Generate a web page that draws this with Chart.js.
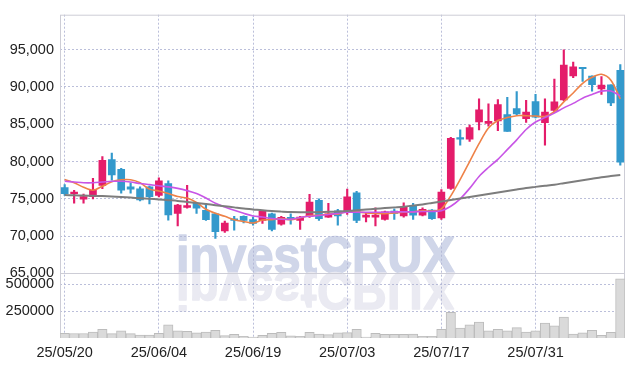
<!DOCTYPE html>
<html>
<head>
<meta charset="utf-8">
<script src="https://cdn.jsdelivr.net/npm/chart.js@4.4.0/dist/chart.umd.min.js"></script>
<style>
  html, body { margin: 0; padding: 0; background: #fff; }
  #wrap { width: 634px; height: 366px; }
</style>
</head>
<body>
<div id="wrap"><canvas id="chart" width="634" height="366"></canvas></div>
<script>
// ---- data (daily candles 25/05/20 - 25/08/13) ----
const dates = [
  '25/05/20','25/05/21','25/05/22','25/05/23','25/05/26','25/05/27','25/05/28','25/05/29','25/05/30','25/06/02',
  '25/06/04','25/06/05','25/06/09','25/06/10','25/06/11','25/06/12','25/06/13','25/06/16','25/06/17','25/06/18',
  '25/06/19','25/06/20','25/06/23','25/06/24','25/06/25','25/06/26','25/06/27','25/06/30','25/07/01','25/07/02',
  '25/07/03','25/07/04','25/07/07','25/07/08','25/07/09','25/07/10','25/07/11','25/07/14','25/07/15','25/07/16',
  '25/07/17','25/07/18','25/07/21','25/07/22','25/07/23','25/07/24','25/07/25','25/07/28','25/07/29','25/07/30',
  '25/07/31','25/08/01','25/08/04','25/08/05','25/08/06','25/08/07','25/08/08','25/08/11','25/08/12','25/08/13'
];
const opens = [
  76500,75700,74950,75300,76800,80250,78950,76600,76350,76600,
  75450,77050,73050,73850,74400,73450,73000,70700,72200,72650,
  72200,72100,73000,71600,72500,72100,72650,74800,72550,73400,
  73250,75800,72550,72550,72250,73350,72700,74050,72800,73500,
  72450,76400,83100,83000,85300,85100,85450,86300,87100,85750,
  88050,85200,86850,88250,91500,92600,91450,89750,90300,92250
];
const highs = [
  76900,76150,75650,77750,80650,81150,79100,77150,76600,76700,
  77800,77400,74250,76800,74500,74350,73100,72000,72650,72700,
  72550,73450,73100,72650,73000,72650,75600,75000,74400,73600,
  76300,76000,73150,73800,73350,73650,74450,74400,73800,73550,
  76250,83250,84250,84900,88400,87750,88300,88600,89400,88200,
  89000,88400,91050,95000,93350,92650,91500,91400,90300,93000
];
const lows = [
  75450,74400,74400,75000,76350,77500,75750,75750,74700,74300,
  75250,72150,71350,73750,73050,72100,69700,70500,70800,71750,
  71450,71700,70700,71450,71600,70900,72500,72100,72500,71450,
  72900,71800,71900,71350,72150,72250,72550,72250,72700,72250,
  72250,76250,82200,82700,84250,84750,84150,84050,86300,85250,
  85850,82200,86600,88150,91250,90750,89450,89000,87500,79500
];
const closes = [
  75700,75900,75300,76150,80150,78200,76150,76300,74850,75300,
  77400,72850,74150,74100,73750,72200,70600,71750,72100,72100,
  71700,73350,70900,72500,72200,72550,74550,72350,73000,72700,
  75250,72100,72800,72800,73250,73050,73900,72800,73600,72350,
  75900,83100,83000,84550,86950,85400,87650,84050,86400,86650,
  85950,86650,88000,92950,92700,92450,90300,90250,87850,79900
];
const ma5 = [
  77600,77150,76550,76150,76680,77300,77550,77550,77150,76300,
  76050,75700,75300,75100,74500,73600,73050,72650,72200,71950,
  71750,72150,72200,72350,72200,72450,72750,72800,72950,72950,
  73300,73250,73100,73050,73000,73100,73200,73250,73400,73350,
  73650,75400,77600,80000,82400,84500,85500,85900,86150,86150,
  86100,86050,86700,88000,89200,90500,91300,91700,90900,88400
];
const ma10 = [
  77350,77250,77150,77150,77250,77350,77350,77250,77050,76900,
  76750,76600,76400,76100,75700,75100,74400,73900,73450,73050,
  72700,72550,72350,72250,72250,72500,72650,72750,72900,73050,
  73200,73200,73200,73200,73200,73250,73250,73250,73300,73300,
  73400,74000,75000,76400,78000,79200,80300,81600,82900,84300,
  85300,85900,86500,87200,87800,88500,89000,89450,89450,88800
];
const maLong = [
  75500,75470,75440,75400,75360,75300,75230,75160,75080,75000,
  74920,74820,74720,74580,74450,74300,74150,74000,73850,73700,
  73580,73450,73350,73280,73220,73200,73200,73220,73250,73300,
  73380,73450,73550,73650,73750,73850,73950,74100,74250,74450,
  74650,74850,75050,75250,75450,75650,75850,76050,76250,76450,
  76600,76750,76900,77100,77300,77500,77700,77900,78050,78200
];
const volumes = [
  44000,42000,42000,56000,81000,41000,66000,41000,28000,28000,
  44000,122000,66000,62000,47000,56000,72000,22000,34000,16000,
  9000,25000,44000,53000,19000,16000,53000,37000,31000,47000,
  50000,81000,8000,44000,34000,34000,34000,37000,16000,16000,
  81000,238000,91000,122000,147000,66000,81000,66000,97000,56000,
  66000,138000,113000,194000,37000,47000,72000,25000,53000,550000
];
const priceTicks = [65000, 70000, 75000, 80000, 85000, 90000, 95000];
const volumeTicks = [250000, 500000];

const UP = '#e41c6a', DOWN = '#3399cc';
const GRID = 'rgba(175,180,212,0.85)';
const LABEL_FONT = "'Liberation Sans', sans-serif";

const candleColors = closes.map((c, i) => c >= opens[i] ? UP : DOWN);
const wicks = lows.map((l, i) => [l, highs[i]]);
const bodies = opens.map((o, i) => [o, closes[i]]);

// watermark behind the grid, with its mirror image under the baseline
const watermark = {
  id: 'watermark',
  beforeDraw(chart) {
    const ctx = chart.ctx;
    ctx.save();
    ctx.font = "bold 52px 'Liberation Sans', Arial, sans-serif";
    const w = ctx.measureText('investCRUX').width;
    ctx.translate(315.5, 272.5);
    ctx.scale(279 / w, 1);
    ctx.textAlign = 'center';
    ctx.textBaseline = 'alphabetic';
    ctx.lineJoin = 'round';
    ctx.lineWidth = 1.4;
    ctx.fillStyle = ctx.strokeStyle = 'rgb(208,214,233)';
    ctx.fillText('investCRUX', 0, 0);
    ctx.strokeText('investCRUX', 0, 0);
    ctx.scale(1, -1);
    ctx.fillStyle = ctx.strokeStyle = 'rgb(234,234,242)';
    ctx.fillText('investCRUX', 0, 0);
    ctx.strokeText('investCRUX', 0, 0);
    ctx.restore();
  }
};

// solid frame round the plot and between the two panels
const frame = {
  id: 'frame',
  beforeDatasetsDraw(chart) {
    const { ctx, chartArea: a } = chart;
    const sep = chart.scales.y.bottom;
    ctx.save();
    ctx.strokeStyle = 'rgb(205,205,214)';
    ctx.lineWidth = 1;
    ctx.strokeRect(a.left + 0.5, a.top + 0.5, a.right - a.left - 1, a.bottom - a.top - 1);
    ctx.beginPath();
    ctx.moveTo(a.left, Math.round(sep) + 0.5);
    ctx.lineTo(a.right, Math.round(sep) + 0.5);
    ctx.stroke();
    ctx.restore();
  }
};

function lineSet(data, color, width) {
  return {
    type: 'line', data, yAxisID: 'y', borderColor: color, borderWidth: width,
    pointRadius: 0, tension: 0.3, fill: false, order: 0
  };
}

const axisFont = { family: LABEL_FONT, size: 14.5 };

new Chart(document.getElementById('chart'), {
  type: 'bar',
  data: {
    labels: dates,
    datasets: [
      lineSet(maLong, 'rgb(125,125,125)', 2),
      lineSet(ma10, 'rgb(200,85,230)', 1.6),
      lineSet(ma5, 'rgb(238,130,72)', 1.6),
      { data: wicks, yAxisID: 'y', backgroundColor: candleColors, barThickness: 1.5, grouped: false, order: 2 },
      { data: bodies, yAxisID: 'y', backgroundColor: candleColors, barThickness: 7, minBarLength: 1.5, grouped: false, order: 1 },
      { data: volumes, yAxisID: 'vol', backgroundColor: 'rgb(218,218,218)', borderColor: 'rgb(188,188,188)',
        borderWidth: 1, barPercentage: 1, categoryPercentage: 1, grouped: false, order: 3 }
    ]
  },
  options: {
    responsive: false,
    animation: false,
    layout: { padding: { top: 9, right: 9, left: 0, bottom: 0 } },
    plugins: { legend: { display: false }, tooltip: { enabled: false } },
    scales: {
      x: {
        offset: true,
        grid: {
          offset: false, drawTicks: false,
          color: c => (c.index % 10 === 0 ? GRID : 'transparent')
        },
        border: { display: false, dash: [2, 2] },
        ticks: {
          autoSkip: false, maxRotation: 0, padding: 6, color: '#222', font: axisFont,
          callback: (v, i) => (i % 10 === 0 ? dates[i] : '')
        },
        afterFit: s => { s.height = 28; }
      },
      // declared first so it lands below the price panel
      vol: {
        stack: 'panels', stackWeight: 1,
        min: 0, max: 600000,
        afterBuildTicks: s => { s.ticks = volumeTicks.map(v => ({ value: v })); },
        grid: { color: GRID, drawTicks: false },
        border: { display: false, dash: [2, 2] },
        ticks: { padding: 6, color: '#222', font: axisFont, callback: v => String(v) },
        afterFit: s => { s.width = 60; }
      },
      y: {
        stack: 'panels', stackWeight: 4,
        min: 65000, max: 99700,
        afterBuildTicks: s => { s.ticks = priceTicks.map(v => ({ value: v })); },
        grid: { color: GRID, drawTicks: false },
        border: { display: false, dash: [2, 2] },
        ticks: { padding: 6, color: '#222', font: axisFont, callback: v => v.toLocaleString('en-US') },
        afterFit: s => { s.width = 60; }
      }
    }
  },
  plugins: [watermark, frame]
});
</script>
</body>
</html>
